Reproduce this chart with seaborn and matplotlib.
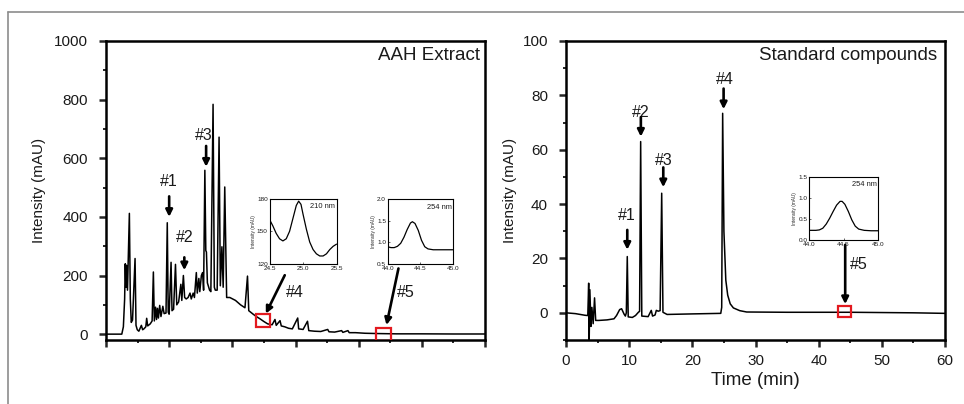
import seaborn as sns
import matplotlib.pyplot as plt
from matplotlib.patches import Rectangle
from matplotlib.lines import Line2D
from matplotlib.ticker import MultipleLocator

# ---- data ----
# AAH extract trace (time in min, intensity in mAU)
extract_time = [0.0, 2.5, 2.75, 2.95, 3.05, 3.15, 3.25, 3.4, 3.7, 3.85, 4.0, 4.2, 4.6, 4.75,
                4.95, 5.2, 5.4, 5.6, 5.8, 6.0, 6.3, 6.44, 6.6, 7.0, 7.3, 7.5, 7.65, 7.85,
                8.0, 8.15, 8.3, 8.5, 8.7, 9.0, 9.2, 9.5, 9.7, 9.85, 10.0, 10.3, 10.45,
                10.7, 11.0, 11.2, 11.5, 11.85, 12.0, 12.25, 12.45, 12.7, 13.0, 13.3, 13.5,
                13.8, 14.0, 14.3, 14.45, 14.7, 14.85, 15.1, 15.3, 15.45, 15.65, 15.8, 15.9,
                16.05, 16.4, 16.6, 16.95, 17.15, 17.3, 17.6, 17.9, 18.1, 18.35, 18.55, 18.8,
                19.1, 19.6, 20.5, 21.3, 22.0, 22.4, 22.6, 23.3, 23.8, 24.4, 25.0, 25.6,
                26.3, 26.75, 26.95, 27.55, 27.75, 28.3, 28.9, 29.5, 30.35, 30.5, 31.2,
                31.9, 32.1, 33.0, 34.0, 35.1, 35.3, 36.2, 37.3, 37.5, 38.3, 38.5, 39.5,
                41.0, 43.0, 46.0, 50.0, 55.0, 60.0]
extract_mau = [0, 0, 25, 120, 240, 160, 235, 150, 412, 120, 40, 48, 258, 30,
               15, 10, 20, 30, 15, 18, 25, 54, 28, 35, 45, 212, 45, 92,
               50, 88, 55, 98, 60, 95, 70, 72, 380, 75, 68, 245, 80,
               85, 238, 100, 110, 170, 115, 200, 125, 120, 125, 140, 120,
               140, 125, 210, 140, 190, 145, 200, 210, 150, 559, 285, 280,
               175, 150, 145, 784, 160, 150, 150, 672, 165, 298, 160, 502,
               125, 125, 115, 100, 90, 198, 80, 68, 60, 52, 43, 35,
               32, 50, 30, 46, 28, 25, 20, 18, 55, 18, 16,
               44, 12, 10, 9, 16, 8, 7, 12, 6, 12, 5, 5,
               3, 2, 1, 1, 0.5, 0.5]

# standard compounds trace
std_time = [0.0, 1.5, 3.0, 3.45, 3.59, 3.66, 3.78, 3.95, 4.1, 4.3, 4.52, 4.7, 5.2, 6.5,
            7.6, 8.0, 8.5, 8.8, 9.2, 9.4, 9.55, 9.7, 9.85, 10.5, 11.0, 11.5, 11.65,
            11.82, 12.0, 13.0, 13.5, 13.7, 14.1, 14.3, 14.6, 14.9, 15.15, 15.35, 16.0,
            20.0, 24.5, 24.65, 24.8, 25.0, 25.3, 25.6, 26.0, 26.5, 27.5, 28.6, 35.0,
            45.0, 55.0, 60.0]
std_mau = [0.0, -0.3, -0.9, -1.0, 10.9, -12.0, 8.5, -5.0, 2.0, -4.0, 5.5, -2.8, -2.8, -2.6,
           -2.2, -1.0, 1.2, 1.5, -0.5, -1.2, 0.0, 20.7, -1.5, -1.7, -1.0, 0.3, 0.5,
           63.0, -1.2, -1.4, 0.9, -1.2, -0.8, 0.9, 0.6, 0.8, 44.0, 0.2, -0.6,
           -0.4, -0.2, 2.0, 73.4, 30.0, 12.0, 6.5, 3.3, 1.8, 0.8, 0.3, 0.2,
           0.2, 0.0, -0.2]

# zoomed spectra in the insets
inset4_time = [24.50, 24.55, 24.60, 24.65, 24.70, 24.75, 24.80, 24.85, 24.90, 24.935, 24.97,
               25.00, 25.05, 25.10, 25.15, 25.20, 25.25, 25.30, 25.35, 25.40, 25.45, 25.50]
inset4_mau = [161, 155, 148, 143, 141, 143, 150, 162, 174, 178, 175,
              166, 152, 140, 133, 129, 127, 127, 129, 133, 136, 138]
inset5a_time = [44.00, 44.05, 44.10, 44.15, 44.20, 44.25, 44.30, 44.35, 44.38, 44.42, 44.47,
                44.52, 44.57, 44.62, 44.70, 44.80, 44.90, 45.00]
inset5a_mau = [0.90, 0.88, 0.88, 0.91, 0.98, 1.12, 1.30, 1.45, 1.48, 1.44, 1.28,
               1.05, 0.90, 0.85, 0.83, 0.83, 0.83, 0.83]
inset5b_time = [44.00, 44.10, 44.15, 44.20, 44.25, 44.30, 44.35, 44.40, 44.45, 44.48, 44.52,
                44.57, 44.62, 44.67, 44.72, 44.80, 44.90, 45.00]
inset5b_mau = [0.23, 0.23, 0.24, 0.28, 0.38, 0.52, 0.68, 0.83, 0.92, 0.92, 0.85,
               0.68, 0.48, 0.33, 0.26, 0.23, 0.22, 0.22]

# peak labels: (text, label x, label y, arrow tail, arrow tip)
extract_labels = [("#1", 10.0, 522, (10.0, 470), (10.0, 400)),
                  ("#2", 12.4, 330, (12.4, 262), (12.4, 218)),
                  ("#3", 15.55, 679, (15.85, 642), (15.85, 571)),
                  ("#4", 29.9, 142, (28.3, 201), (25.3, 70)),
                  ("#5", 47.5, 142, (46.3, 224), (44.4, 31))]
std_labels = [("#1", 9.7, 35.7, (9.7, 30.5), (9.7, 23.2)),
              ("#2", 11.9, 73.6, (11.85, 72.0), (11.85, 64.8)),
              ("#3", 15.5, 56.2, (15.4, 53.5), (15.4, 46.2)),
              ("#4", 25.2, 85.9, (24.95, 82.5), (24.95, 74.9)),
              ("#5", 46.3, 17.9, (44.2, 25.0), (44.2, 3.2))]

sns.set_style("ticks")
plt.rcParams['font.family'] = ['Liberation Sans', 'DejaVu Sans']
TEXT = '#1a1a1a'
RED = '#e3191f'

fig = plt.figure(figsize=(9.64, 4.04), dpi=100)

# grey slide frame
fig.add_artist(Line2D([8 / 964, 1], [1 - 12 / 404] * 2, transform=fig.transFigure,
                      color='#8c8c8c', lw=1.2))
fig.add_artist(Line2D([8 / 964] * 2, [0, 1 - 12 / 404], transform=fig.transFigure,
                      color='#8c8c8c', lw=1.2))

ax1 = fig.add_axes([106 / 964, 64 / 404, 379 / 964, 299 / 404])
ax2 = fig.add_axes([566 / 964, 64 / 404, 379 / 964, 299 / 404])


def style_main(ax):
    for s in ax.spines.values():
        s.set_visible(True)
        s.set_linewidth(1.8)
        s.set_color('black')
    ax.tick_params(which='major', direction='out', length=5, width=1.8,
                   labelsize=11, labelcolor=TEXT, pad=8)
    ax.tick_params(which='minor', direction='out', length=2.5, width=1.4)
    ax.tick_params(axis='x', pad=5)
    ax.set_xlim(0, 60)
    ax.xaxis.set_major_locator(MultipleLocator(10))
    ax.xaxis.set_minor_locator(MultipleLocator(5))


sns.lineplot(x=extract_time, y=extract_mau, ax=ax1, color='black', linewidth=1.1,
             estimator=None, sort=False, legend=False)
style_main(ax1)
ax1.set_ylim(-20, 1000)
ax1.yaxis.set_major_locator(MultipleLocator(200))
ax1.yaxis.set_minor_locator(MultipleLocator(100))
ax1.set_xticklabels([])
ax1.set_ylabel("Intensity (mAU)", fontsize=11, color=TEXT, labelpad=6)
ax1.set_xlabel("")
ax1.text(0.987, 0.953, "AAH Extract", transform=ax1.transAxes, ha='right', va='center',
         fontsize=13.5, color=TEXT)

sns.lineplot(x=std_time, y=std_mau, ax=ax2, color='black', linewidth=1.1,
             estimator=None, sort=False, legend=False)
style_main(ax2)
ax2.set_ylim(-10, 100)
ax2.yaxis.set_major_locator(MultipleLocator(20))
ax2.yaxis.set_minor_locator(MultipleLocator(10))
ax2.set_ylabel("Intensity (mAU)", fontsize=11, color=TEXT, labelpad=4)
ax2.set_xlabel("Time (min)", fontsize=13.5, color=TEXT, labelpad=3)
ax2.text(0.98, 0.953, "Standard compounds", transform=ax2.transAxes, ha='right',
         va='center', fontsize=13.5, color=TEXT)

for ax, labels in ((ax1, extract_labels), (ax2, std_labels)):
    for txt, lx, ly, tail, tip in labels:
        ax.text(lx, ly, txt, ha='center', va='center', fontsize=11.5, color=TEXT)
        ax.annotate('', xy=tip, xytext=tail,
                    arrowprops=dict(arrowstyle='-|>', color='black', lw=1.9,
                                    mutation_scale=10, shrinkA=0, shrinkB=0))

# red boxes marking the zoomed regions
for ax, cx, cy, w, h in ((ax1, 24.8, 45, 2.2, 44), (ax1, 43.9, 0, 2.4, 44),
                         (ax2, 44.1, 0.5, 1.95, 4.0)):
    ax.add_patch(Rectangle((cx - w / 2, cy - h / 2), w, h, fill=False,
                           edgecolor=RED, lw=1.6, zorder=5))


def inset(rect, x, y, xlim, ylim, yticks, nm):
    ax = fig.add_axes(rect)
    sns.lineplot(x=x, y=y, ax=ax, color='black', linewidth=0.9,
                 estimator=None, sort=False, legend=False)
    ax.set_xlim(*xlim)
    ax.set_ylim(*ylim)
    ax.set_xticks([xlim[0], (xlim[0] + xlim[1]) / 2, xlim[1]])
    ax.set_xticklabels([f"{v:.1f}" for v in ax.get_xticks()])
    ax.set_yticks(yticks)
    for s in ax.spines.values():
        s.set_visible(True)
        s.set_linewidth(0.8)
        s.set_color('black')
    ax.tick_params(direction='in', length=1.5, width=0.5, labelsize=4.6, pad=1.2,
                   labelcolor=TEXT)
    ax.tick_params(axis='x', pad=1.8)
    ax.set_ylabel("Intensity (mAU)", fontsize=3.4, labelpad=0.8)
    ax.set_xlabel("")
    ax.text(0.98, 0.88, nm, transform=ax.transAxes, ha='right', va='center',
            fontsize=5.4, color=TEXT)
    return ax


inset([269.5 / 964, 140.5 / 404, 67 / 964, 64.5 / 404], inset4_time, inset4_mau,
      (24.5, 25.5), (120, 180), [120, 150, 180], "210 nm")
ins = inset([387.7 / 964, 140 / 404, 65 / 964, 64.7 / 404], inset5a_time, inset5a_mau,
            (44.0, 45.0), (0.5, 2.0), [0.5, 1.0, 1.5, 2.0], "254 nm")
ins.set_yticklabels(["0.5", "1.0", "1.5", "2.0"])
ins = inset([809 / 964, 164 / 404, 69 / 964, 63 / 404], inset5b_time, inset5b_mau,
            (44.0, 45.0), (0.0, 1.5), [0.0, 0.5, 1.0, 1.5], "254 nm")
ins.set_yticklabels(["0.0", "0.5", "1.0", "1.5"])

fig.savefig("out.png", dpi=100)
